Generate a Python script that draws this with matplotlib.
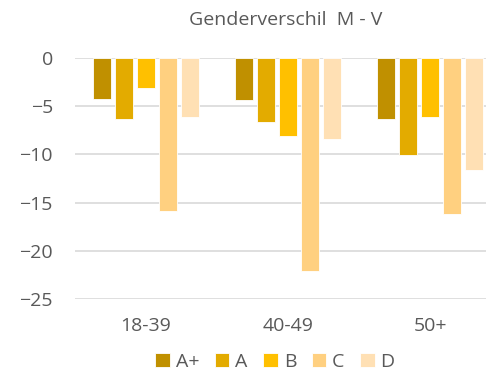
import matplotlib
matplotlib.use("Agg")
import matplotlib.pyplot as plt
import numpy as np

plt.rcParams['font.family'] = ['Open Sans', 'DejaVu Sans']

groups = ['18-39', '40-49', '50+']
series = ['A+', 'A', 'B', 'C', 'D']
colors = ['#C09000', '#E3AB00', '#FFC000', '#FFD080', '#FFE0B4']
values = {
    'A+': [-4.3, -4.4, -6.3],
    'A': [-6.3, -6.6, -10.1],
    'B': [-3.1, -8.1, -6.1],
    'C': [-15.9, -22.1, -16.2],
    'D': [-6.1, -8.4, -11.6],
}

fig = plt.figure(figsize=(4.86, 3.78), dpi=100)
ax = fig.add_axes([75/486, 1-299/378, 411/486, 241/378])

x = np.arange(len(groups))
step = 0.155
for i, s in enumerate(series):
    ax.bar(x + (i - 2) * step, values[s], width=0.125, color=colors[i],
           edgecolor='white', linewidth=0.6, label=s, zorder=3)

ax.set_ylim(-25, 0)
ax.set_yticks([0, -5, -10, -15, -20, -25])
ax.set_xlim(-0.5, 2.394)
ax.set_xticks(x)
ax.set_xticklabels(groups)
ax.grid(axis='y', color='#D9D9D9', linewidth=1.2, zorder=0)
for sp in ax.spines.values():
    sp.set_visible(False)
ax.tick_params(length=0, labelsize=14, colors='#595959')
ax.tick_params(axis='x', pad=13)
ax.tick_params(axis='y', pad=16)
ax.set_axisbelow(True)

fig.text(286/486, 1-20/378, 'Genderverschil  M - V', ha='center', va='center',
         fontsize=14, color='#595959')

fig.legend(loc='center', bbox_to_anchor=(275/486, 1-362/378), ncol=5, frameon=False,
           fontsize=14, labelcolor='#595959', handlelength=0.75, handleheight=0.75,
           handletextpad=0.3, columnspacing=0.8)

fig.savefig('out.png', dpi=100)
